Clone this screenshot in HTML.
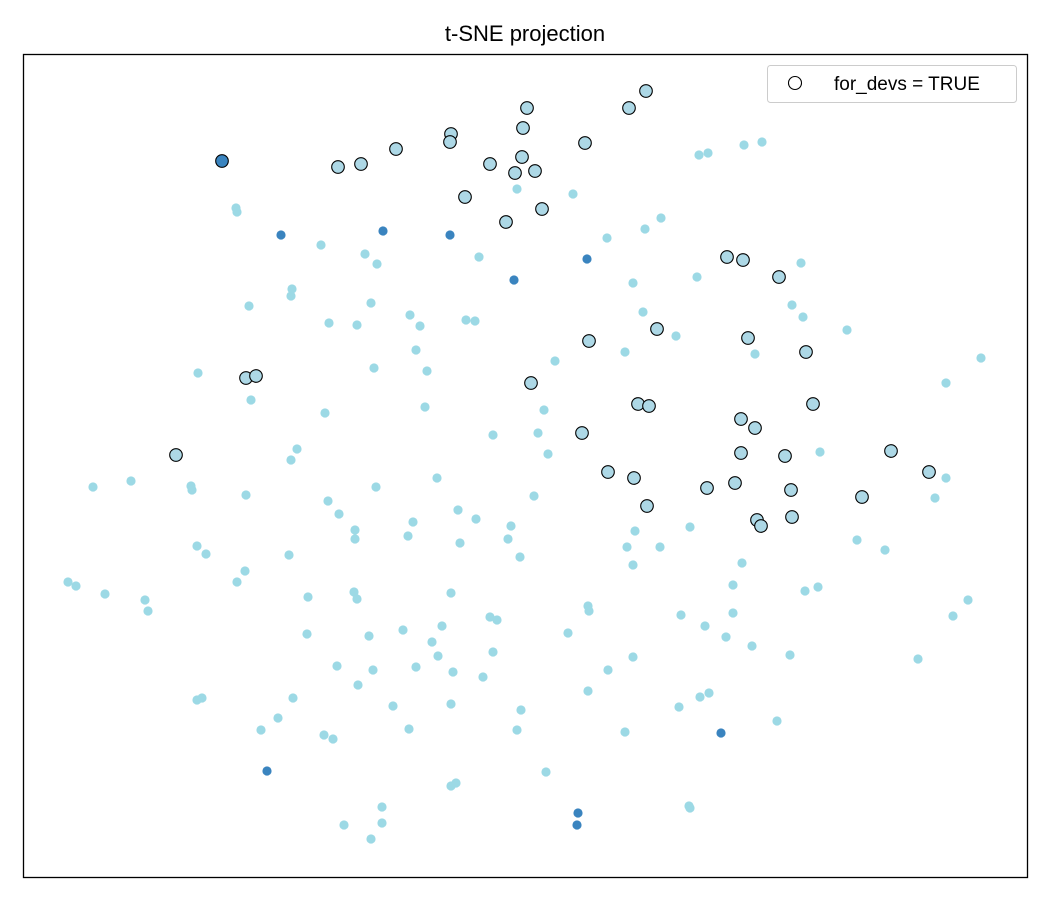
<!DOCTYPE html>
<html><head><meta charset="utf-8"><style>body{margin:0;background:#fff}svg{display:block}</style></head><body>
<svg width="1050" height="900" xmlns="http://www.w3.org/2000/svg" font-family="Liberation Sans, DejaVu Sans, sans-serif">
<rect width="1050" height="900" fill="#fff"/>
<text x="525" y="41" font-size="22" text-anchor="middle" fill="#000">t-SNE projection</text>
<g fill="#9cd9e5" id="light"></g>
<g fill="#3a84bf" id="dark"></g>
<g fill="#add8e6" stroke="#000" stroke-width="1.1" id="open"></g>
<rect x="23.5" y="54.5" width="1004" height="823" fill="none" stroke="#000" stroke-width="1.3"/>
<rect x="767.5" y="65.5" width="249" height="37" rx="3" fill="#fff" fill-opacity="0.8" stroke="#ccc"/>
<circle cx="795" cy="83" r="6.5" fill="#fff" stroke="#000" stroke-width="1.1"/>
<text x="834" y="90" font-size="19" fill="#000">for_devs = TRUE</text>
<script>
const L=[[236,208],[237,212],[249,306],[292,289],[291,296],[321,245],[365,254],[377,264],[371,303],[329,323],[357,325],[410,315],[420,326],[466,320],[475,321],[479,257],[416,350],[427,371],[374,368],[198,373],[251,400],[325,413],[425,407],[517,189],[573,194],[607,238],[645,229],[661,218],[699,155],[708,153],[744,145],[762,142],[633,283],[697,277],[643,312],[676,336],[625,352],[555,361],[544,410],[538,433],[548,454],[493,435],[437,478],[376,487],[297,449],[291,460],[93,487],[131,481],[191,486],[192,490],[246,495],[328,501],[339,514],[355,530],[355,539],[413,522],[408,536],[458,510],[476,519],[511,526],[508,539],[460,543],[520,557],[534,496],[627,547],[635,531],[633,565],[660,547],[690,527],[742,563],[733,585],[801,263],[792,305],[803,317],[755,354],[847,330],[820,452],[946,383],[981,358],[946,478],[935,498],[857,540],[885,550],[805,591],[818,587],[968,600],[953,616],[918,659],[790,655],[777,721],[752,646],[726,637],[705,626],[733,613],[681,615],[588,606],[589,611],[568,633],[490,617],[497,620],[442,626],[432,642],[438,656],[451,593],[453,672],[483,677],[493,652],[416,667],[403,630],[369,636],[373,670],[358,685],[337,666],[307,634],[308,597],[354,592],[357,599],[289,555],[245,571],[237,582],[197,546],[206,554],[68,582],[76,586],[105,594],[145,600],[148,611],[197,700],[202,698],[293,698],[278,718],[261,730],[324,735],[333,739],[393,706],[409,729],[451,704],[521,710],[517,730],[546,772],[451,786],[456,783],[382,807],[382,823],[344,825],[371,839],[588,691],[608,670],[633,657],[625,732],[679,707],[700,697],[709,693],[689,806],[690,808]];
const D=[[281,235],[383,231],[450,235],[514,280],[587,259],[267,771],[721,733],[578,813],[577,825]];
const O=[[338,167],[361,164],[396,149],[451,134],[450,142],[490,164],[527,108],[523,128],[522,157],[515,173],[535,171],[465,197],[506,222],[542,209],[585,143],[629,108],[646,91],[727,257],[743,260],[779,277],[657,329],[589,341],[748,338],[806,352],[246,378],[256,376],[531,383],[638,404],[649,406],[741,419],[755,428],[813,404],[176,455],[582,433],[608,472],[634,478],[741,453],[785,456],[891,451],[929,472],[707,488],[735,483],[791,490],[862,497],[647,506],[757,520],[761,526],[792,517]];
const ns="http://www.w3.org/2000/svg";
function add(id,a,r){const g=document.getElementById(id);for(const[x,y]of a){const c=document.createElementNS(ns,"circle");c.setAttribute("cx",x);c.setAttribute("cy",y);c.setAttribute("r",r);g.appendChild(c);}}
add("light",L,4.6);add("dark",D,4.6);add("open",O,6.3);
const s=document.createElementNS(ns,"circle");s.setAttribute("cx",222);s.setAttribute("cy",161);s.setAttribute("r",6.3);s.setAttribute("fill","#3a84bf");s.setAttribute("stroke","#000");s.setAttribute("stroke-width","1.1");document.getElementById("open").appendChild(s);
</script>
</svg>
</body></html>
